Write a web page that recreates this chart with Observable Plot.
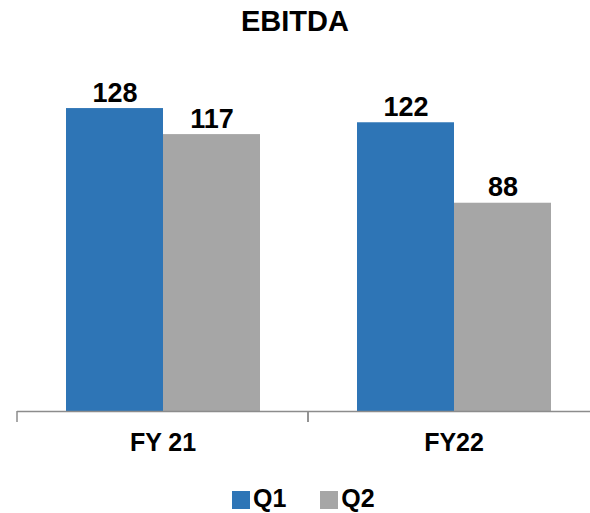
<!DOCTYPE html>
<html>
<head>
<meta charset="utf-8">
<script src="https://cdn.jsdelivr.net/npm/d3@7"></script>
<script src="https://cdn.jsdelivr.net/npm/@observablehq/plot@0.6"></script>
<style>
  body { margin: 0; width: 590px; height: 513px; overflow: hidden; background: #fff;
         font-family: "Liberation Sans", Arial, sans-serif; color: #000; }
  #title { height: 43px; line-height: 43px; text-align: center; font-weight: bold; font-size: 29px; }
  #chart { width: 590px; height: 437px; overflow: hidden; }
  #chart svg { display: block; max-width: none !important; width: 600px; height: 437px !important; }
  #legend { height: 33px; display: flex; align-items: flex-start; padding-left: 232px; }
  .item { display: flex; align-items: flex-start; margin-right: 34px; }
  .swatch { width: 18px; height: 18px; margin-top: 11px; margin-right: 3px; }
  .label { font-size: 25px; line-height: 20px; font-weight: bold; margin-top: 8px; }
</style>
</head>
<body>
<div id="title">EBITDA</div>
<div id="chart"></div>
<div id="legend"></div>
<script>
// EBITDA by fiscal year, first and second quarter
const years = ["FY 21", "FY22"];
const quarters = ["Q1", "Q2"];
const q1Values = [128, 122];
const q2Values = [117, 88];
const quarterColors = ["#2E75B6", "#A6A6A6"];

const rows = years.flatMap((year, i) => [
  {year, quarter: quarters[0], value: q1Values[i]},
  {year, quarter: quarters[1], value: q2Values[i]}
]);

const axisGray = "#8C8C8C";

// small downward ticks at the edges of each fiscal-year group
function groupEdgeTicks(index, scales) {
  const {fx, y} = scales;
  const edges = years.map(d => fx(d)).concat(fx(years[years.length - 1]) + fx.bandwidth());
  const g = d3.create("svg:g").attr("stroke", axisGray).attr("stroke-width", 1.5);
  g.selectAll("line").data(edges).join("line")
    .attr("x1", d => d).attr("x2", d => d)
    .attr("y1", y(0)).attr("y2", y(0) + 11);
  return g.node();
}

const chart = Plot.plot({
  width: 600,
  height: 437,
  marginLeft: 17,
  marginRight: 1,
  marginTop: 13,
  marginBottom: 69,
  style: {fontFamily: "'Liberation Sans', Arial, sans-serif", background: "#fff", color: "#000", maxWidth: "none"},
  fx: {domain: years, padding: 0, label: null},
  x: {domain: quarters, paddingInner: 0, paddingOuter: 0.5, axis: null},
  y: {domain: [0, 150], axis: null},
  color: {domain: quarters, range: quarterColors},
  marks: [
    Plot.barY(rows, {fx: "year", x: "quarter", y: "value", fill: "quarter"}),
    Plot.text(rows, {
      fx: "year", x: "quarter", y: "value", text: d => String(d.value),
      lineAnchor: "bottom", dy: -7, fontSize: 27, fontWeight: "bold", fill: "#000"
    }),
    Plot.ruleY([0], {stroke: axisGray, strokeWidth: 1.5}),
    groupEdgeTicks,
    Plot.axisFx({anchor: "bottom", tickSize: 0, tickPadding: 22, fontSize: 25, fontWeight: "bold", fill: "#000", label: null})
  ]
});
document.getElementById("chart").append(chart);

// legend below the chart
const legend = d3.select("#legend");
quarters.forEach((q, i) => {
  const item = legend.append("div").attr("class", "item");
  item.append("div").attr("class", "swatch").style("background", quarterColors[i]);
  item.append("div").attr("class", "label").text(q);
});
</script>
</body>
</html>
